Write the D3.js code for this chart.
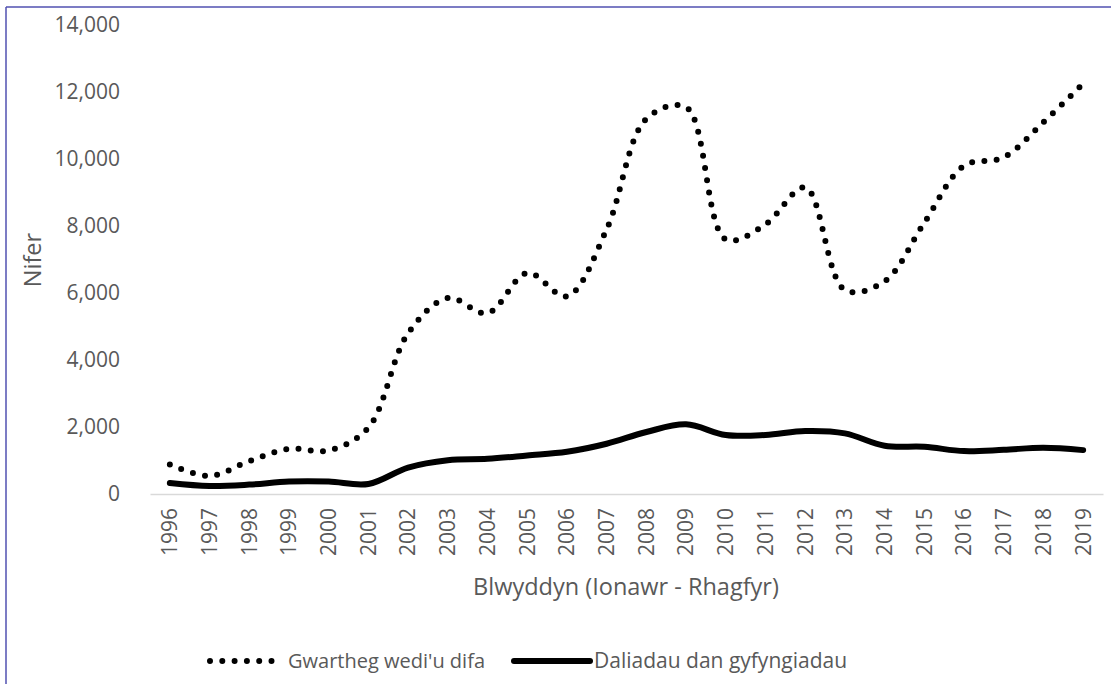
<!DOCTYPE html>
<html>
<head>
<meta charset="utf-8">
<script src="https://cdn.jsdelivr.net/npm/d3@7"></script>
<style>
  html, body { margin: 0; padding: 0; background: #fff; }
  svg { display: block; }
  text { font-family: "Open Sans", sans-serif; fill: #595959; }
</style>
</head>
<body>
<svg id="chart" width="1111" height="684"></svg>
<script>
const years = ["1996","1997","1998","1999","2000","2001","2002","2003","2004","2005","2006","2007","2008","2009","2010","2011","2012","2013","2014","2015","2016","2017","2018","2019"];
const cattleSlaughtered = [880, 540, 980, 1350, 1300, 1980, 4800, 5850, 5400, 6600, 5900, 7900, 11200, 11550, 7600, 8050, 9150, 6090, 6350, 8100, 9800, 10050, 11100, 12250];
const restrictedHerds = [330, 240, 280, 370, 370, 300, 790, 1010, 1050, 1150, 1260, 1500, 1850, 2080, 1760, 1760, 1880, 1810, 1440, 1410, 1280, 1320, 1380, 1310];
const yTicks = [0, 2000, 4000, 6000, 8000, 10000, 12000, 14000];
const seriesNames = ["Gwartheg wedi'u difa", "Daliadau dan gyfyngiadau"];
const xTitle = "Blwyddyn (Ionawr - Rhagfyr)";
const yTitle = "Nifer";

const svg = d3.select("#chart");

// outer border (top and left)
svg.append("line").attr("x1", 6).attr("x2", 1111).attr("y1", 7).attr("y2", 7)
  .attr("stroke", "#5050b0").attr("stroke-width", 1.5);
svg.append("line").attr("x1", 6).attr("x2", 6).attr("y1", 7).attr("y2", 684)
  .attr("stroke", "#5050b0").attr("stroke-width", 1.5);

const x = d3.scaleBand().domain(years).range([150, 1103]);
const y = d3.scaleLinear().domain([0, 14000]).range([494, 25]);
const cx = d => x(d) + x.bandwidth() / 2;

// y axis labels
const yAxis = d3.axisLeft(y).tickValues(yTicks).tickFormat(d3.format(",")).tickSize(0).tickPadding(0);
const yg = svg.append("g").attr("transform", "translate(120,0)").call(yAxis);
yg.select(".domain").remove();
yg.selectAll("text").style("font-size", "21px").attr("fill", "#595959").style("font-family", "'Open Sans', sans-serif");

// x axis
const xAxis = d3.axisBottom(x).tickSize(0).tickPadding(0);
const xg = svg.append("g").attr("transform", "translate(0,494)").call(xAxis);
xg.select(".domain").attr("stroke", "#d9d9d9").attr("stroke-width", 1.5);
xg.selectAll("text")
  .style("font-size", "21px").attr("fill", "#595959").style("font-family", "'Open Sans', sans-serif")
  .attr("transform", "rotate(-90)")
  .attr("x", -14).attr("y", 0).attr("dy", "0.35em")
  .attr("text-anchor", "end");

// titles
svg.append("text").attr("x", 626).attr("y", 595).attr("text-anchor", "middle")
  .style("font-size", "23.5px").text(xTitle);
svg.append("text").attr("transform", "translate(33,260) rotate(-90)").attr("text-anchor", "middle")
  .attr("dy", "0.35em").style("font-size", "23.5px").text(yTitle);

// lines
const line = d3.line().x((d, i) => cx(years[i])).y(d => y(d)).curve(d3.curveCatmullRom.alpha(0.5));

svg.append("path").datum(restrictedHerds).attr("d", line)
  .attr("fill", "none").attr("stroke", "#000").attr("stroke-width", 6)
  .attr("stroke-linecap", "round").attr("stroke-linejoin", "round");

svg.append("path").datum(cattleSlaughtered).attr("d", line)
  .attr("fill", "none").attr("stroke", "#000").attr("stroke-width", 6)
  .attr("stroke-linecap", "round").attr("stroke-dasharray", "0 12.3");

// legend
const lg = svg.append("g").attr("transform", "translate(0,661)");
lg.append("line").attr("x1", 210).attr("x2", 272).attr("y1", 0).attr("y2", 0)
  .attr("stroke", "#000").attr("stroke-width", 6).attr("stroke-linecap", "round").attr("stroke-dasharray", "0 12.3");
lg.append("text").attr("x", 288).attr("y", 0).attr("dy", "0.35em").style("font-size", "20px").text(seriesNames[0]);
lg.append("line").attr("x1", 514).attr("x2", 590).attr("y1", 0).attr("y2", 0)
  .attr("stroke", "#000").attr("stroke-width", 6).attr("stroke-linecap", "round");
lg.append("text").attr("x", 594).attr("y", 0).attr("dy", "0.35em").style("font-size", "21px").text(seriesNames[1]);
</script>
</body>
</html>
